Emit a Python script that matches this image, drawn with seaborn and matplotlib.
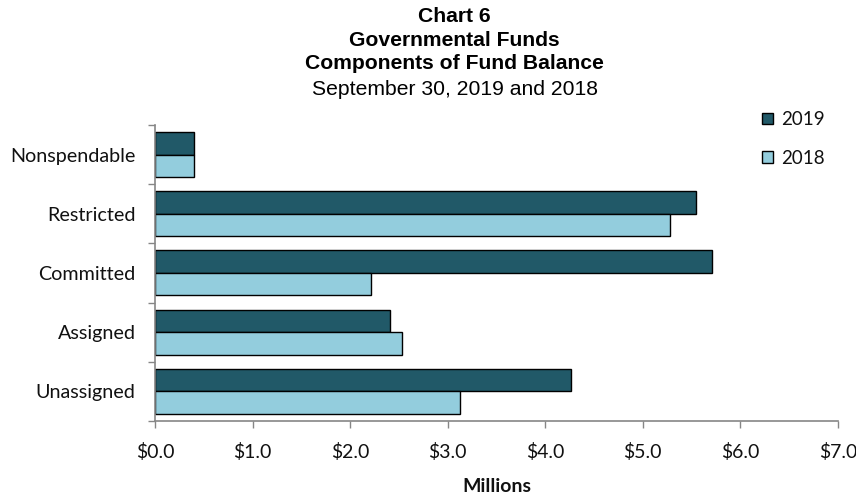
import matplotlib
matplotlib.use("Agg")
import matplotlib.pyplot as plt
import seaborn as sns
import pandas as pd
from matplotlib.patches import Patch
from matplotlib.ticker import FixedLocator, FuncFormatter

# Fund balance components, in millions of dollars
categories = ["Nonspendable", "Restricted", "Committed", "Assigned", "Unassigned"]
years = ["2019", "2018"]
values_2019 = [0.40, 5.54, 5.71, 2.41, 4.26]
values_2018 = [0.40, 5.28, 2.21, 2.53, 3.13]
x_ticks = [0, 1, 2, 3, 4, 5, 6, 7]

colors = {"2019": "#215968", "2018": "#93CDDD"}

df = pd.DataFrame({
    "Component": categories * 2,
    "Year": ["2019"] * len(categories) + ["2018"] * len(categories),
    "Amount": values_2019 + values_2018,
})

sns.set_theme(style="white")
plt.rcParams["font.family"] = ["Lato", "DejaVu Sans"]

fig = plt.figure(figsize=(8.56, 4.95), dpi=100)
ax = fig.add_axes([0.181, 0.1495, 0.798, 0.598])

sns.barplot(
    data=df, y="Component", x="Amount", hue="Year",
    order=categories, hue_order=years, palette=colors,
    orient="h", width=0.76, edgecolor="black", linewidth=1.0,
    saturation=1, legend=False, ax=ax,
)

ax.set_xlim(0, 7)
ax.set_ylim(len(categories) - 0.5, -0.5)
ax.xaxis.set_major_locator(FixedLocator(x_ticks))
ax.xaxis.set_major_formatter(FuncFormatter(lambda v, p: f"${v:.1f}"))

# Category ticks sit between groups
ax.set_yticks(range(len(categories)))
ax.set_yticklabels(categories)
ax.yaxis.set_minor_locator(FixedLocator([i - 0.5 for i in range(len(categories) + 1)]))
ax.tick_params(axis="y", which="major", length=0, pad=14, labelsize=14.2, labelcolor="#111111")
ax.tick_params(axis="y", which="minor", length=5, width=1, color="#868686", direction="out", left=True)
ax.tick_params(axis="x", which="major", length=5, width=1, color="#868686", direction="out",
               bottom=True, pad=11, labelsize=14, labelcolor="#111111")

for side in ("top", "right"):
    ax.spines[side].set_visible(False)
for side in ("left", "bottom"):
    ax.spines[side].set_color("#868686")
    ax.spines[side].set_linewidth(1.2)

ax.set_ylabel("")
ax.set_xlabel("Millions", fontsize=14, fontweight="bold", labelpad=12, color="#111111")

# Title block
title_x = 0.531
title_font = ["Liberation Sans"]
title_kw = dict(ha="center", va="center", fontsize=15.2, family=title_font, color="black")
fig.text(title_x, 0.966, "Chart 6", fontweight="bold", **title_kw)
fig.text(title_x, 0.918, "Governmental Funds", fontweight="bold", **title_kw)
fig.text(title_x, 0.871, "Components of Fund Balance", fontweight="bold", **title_kw)
fig.text(title_x, 0.820, "September 30, 2019 and 2018", **title_kw)

handles = [Patch(facecolor=colors[y], edgecolor="black", linewidth=1.0, label=y) for y in years]
fig.legend(handles=handles, loc="upper left", bbox_to_anchor=(0.881, 0.791),
           frameon=False, fontsize=13.5, handlelength=0.58, handleheight=0.58,
           handletextpad=0.45, labelspacing=1.15, borderaxespad=0, labelcolor="#111111")

fig.savefig("out.png", dpi=100, facecolor="white")
